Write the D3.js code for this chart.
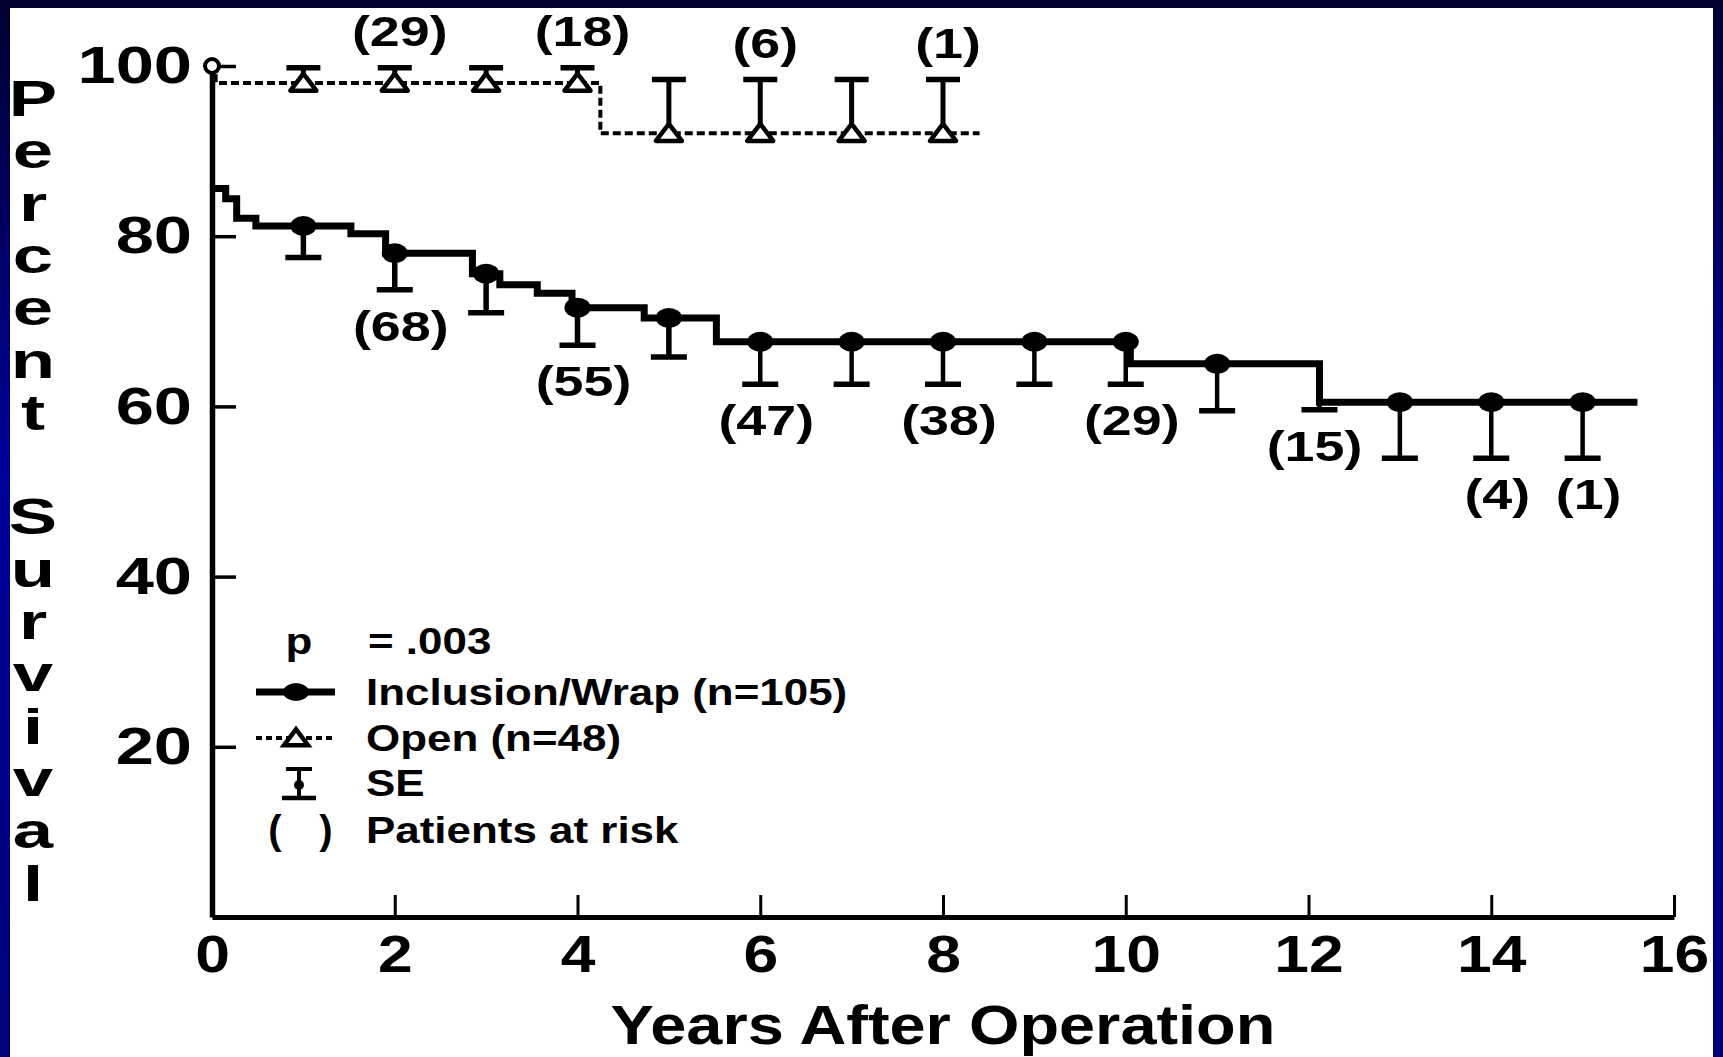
<!DOCTYPE html>
<html><head><meta charset="utf-8">
<script src="https://cdn.jsdelivr.net/npm/d3@7"></script>
<style>html,body{margin:0;padding:0;overflow:hidden;background:#000050}
text{font-family:"Liberation Sans",Arial,Helvetica,sans-serif;font-weight:bold;fill:#000}</style>
</head><body>
<svg id="c" width="1723" height="1057"></svg>
<script>
// ---------------- data ----------------
const xTicks = [0, 2, 4, 6, 8, 10, 12, 14, 16];
const yTicks = [20, 40, 60, 80, 100];

// Inclusion/Wrap (solid) Kaplan-Meier steps
const wrapTimes = [0, 0.15, 0.27, 0.48, 1.52, 1.9, 2.85, 3.15, 3.56, 3.94, 4.73, 5.52, 10.05, 12.12, 15.6];
const wrapSurv  = [85.6, 84.4, 82.1, 81.2, 80.3, 78.0, 75.6, 74.3, 73.3, 71.6, 70.4, 67.6, 65.0, 60.5, 60.5];
// Inclusion/Wrap SE bars (lower half)
const wrapSEYears = [1, 2, 3, 4, 5, 6, 7, 8, 9, 10, 11, 12.12, 13, 14, 15];
const wrapSETop   = [81.2, 78.0, 75.6, 71.6, 70.4, 67.6, 67.6, 67.6, 67.6, 67.6, 65.0, 65.0, 60.5, 60.5, 60.5];
const wrapSELow   = [77.5, 73.7, 71.0, 67.2, 65.8, 62.6, 62.6, 62.6, 62.6, 62.6, 59.5, 59.6, 53.9, 53.9, 53.9];
const wrapDotYears = [1, 2, 3, 4, 5, 6, 7, 8, 9, 10, 11, 13, 14, 15];

// Open (dashed)
const openTimes = [0, 0.04, 4.25, 8.4];
const openSurv  = [100, 98.0, 92.1, 92.1];
const openSEYears = [1, 2, 3, 4, 5, 6, 7, 8];
const openSEVal   = [98.0, 98.0, 98.0, 98.0, 92.1, 92.1, 92.1, 92.1];
const openSEHigh  = [99.8, 99.8, 99.8, 99.8, 98.4, 98.4, 98.4, 98.4];

// patients at risk
const openRiskYears = [2, 4, 6, 8];
const openRiskN     = [29, 18, 6, 1];
const wrapRiskYears = [2, 4, 6, 8, 10, 12, 14, 15];
const wrapRiskN     = [68, 55, 47, 38, 29, 15, 4, 1];

const yTitle = "Percent Survival";
const xTitle = "Years After Operation";
const legendP = ["p", "= .003"];
const legendItems = ["Inclusion/Wrap (n=105)", "Open (n=48)", "SE", "Patients at risk"];

// ---------------- drawing ----------------
const W = 1723, H = 1057;
const svg = d3.select("#c");

const defs = svg.append("defs");
const grad = defs.append("linearGradient").attr("id","bg").attr("x1",0).attr("y1",0).attr("x2",0).attr("y2",1);
grad.append("stop").attr("offset","0%").attr("stop-color","#000030");
grad.append("stop").attr("offset","45%").attr("stop-color","#00009a");
grad.append("stop").attr("offset","100%").attr("stop-color","#000078");
svg.append("rect").attr("width",W).attr("height",H).attr("fill","url(#bg)");
svg.append("rect").attr("x",10).attr("y",8).attr("width",1703).attr("height",H-8).attr("fill","#fff");

const x = d3.scaleLinear().domain([0,16]).range([212,1674]);
const y = d3.scaleLinear().domain([0,100]).range([917,66]);

function stretch(sel, k){
  sel.each(function(){
    const w = this.getComputedTextLength();
    d3.select(this).attr("textLength", w*k).attr("lengthAdjust","spacingAndGlyphs");
  });
}

// axes
const gx = svg.append("g").attr("transform",`translate(0,${y(0)})`)
  .call(d3.axisBottom(x).tickValues(xTicks).tickFormat(d3.format("d")).tickSizeInner(-22).tickSizeOuter(0).tickPadding(18));
gx.select(".domain").attr("stroke","#000").attr("stroke-width",5);
gx.selectAll(".tick line").attr("stroke","#000").attr("stroke-width",3);
gx.selectAll(".tick text").attr("font-size",52).attr("fill","#000").style("font-family",'"Liberation Sans",Arial,sans-serif').style("font-weight","bold");
stretch(gx.selectAll(".tick text"), 1.2);

const gy = svg.append("g").attr("transform",`translate(${x(0)},0)`)
  .call(d3.axisLeft(y).tickValues(yTicks).tickFormat(d3.format("d")).tickSizeInner(-24).tickSizeOuter(0).tickPadding(20));
gy.select(".domain").attr("stroke","#000").attr("stroke-width",5.5);
gy.selectAll(".tick line").attr("stroke","#000").attr("stroke-width",3.5);
gy.selectAll(".tick text").attr("font-size",52).attr("fill","#000").style("font-family",'"Liberation Sans",Arial,sans-serif').style("font-weight","bold");
stretch(gy.selectAll(".tick text"), 1.32);

// axis titles
const yt = svg.append("g");
yTitle.split("").forEach((ch,i)=>{
  if(ch===" ") return;
  yt.append("text").attr("transform",`translate(33,${101 + i*52.3 + 15}) scale(1.45,1)`)
    .attr("text-anchor","middle").attr("font-size",50).text(ch);
});
const xt = svg.append("text").attr("x",943).attr("y",1044).attr("text-anchor","middle").attr("font-size",55).text(xTitle);
stretch(xt, 1.18);

// open curve (dashed)
const line = d3.line().x(d=>x(d[0])).y(d=>y(d[1])).curve(d3.curveStepAfter);
svg.append("path").datum(openTimes.map((t,i)=>[t,openSurv[i]]))
  .attr("d",line).attr("fill","none").attr("stroke","#000").attr("stroke-width",4).attr("stroke-dasharray","8,4");

// open SE bars (upper)
const gOpen = svg.append("g");
openSEYears.forEach((t,i)=>{
  gOpen.append("line").attr("x1",x(t)).attr("x2",x(t)).attr("y1",y(openSEVal[i])).attr("y2",y(openSEHigh[i]))
    .attr("stroke","#000").attr("stroke-width",5);
  gOpen.append("line").attr("x1",x(t)-17).attr("x2",x(t)+17).attr("y1",y(openSEHigh[i])).attr("y2",y(openSEHigh[i]))
    .attr("stroke","#000").attr("stroke-width",5.5);
});
const tri = (cx,cy,w,h)=>`M${cx-w/2},${cy+h*0.45}L${cx+w/2},${cy+h*0.45}L${cx},${cy-h*0.55}Z`;
openSEYears.forEach((t,i)=>{
  gOpen.append("path").attr("d",tri(x(t),y(openSEVal[i]),26,17))
    .attr("fill","#fff").attr("stroke","#000").attr("stroke-width",4.5).attr("stroke-linejoin","round");
});
// open start circle
svg.append("circle").attr("cx",x(openTimes[0])).attr("cy",y(openSurv[0])).attr("r",7)
  .attr("fill","#fff").attr("stroke","#000").attr("stroke-width",4);

// wrap curve (solid)
svg.append("path").datum(wrapTimes.map((t,i)=>[t,wrapSurv[i]]))
  .attr("d",line).attr("fill","none").attr("stroke","#000").attr("stroke-width",7).attr("stroke-linejoin","miter");

const gWrap = svg.append("g");
wrapSEYears.forEach((t,i)=>{
  gWrap.append("line").attr("x1",x(t)).attr("x2",x(t)).attr("y1",y(wrapSETop[i])).attr("y2",y(wrapSELow[i]))
    .attr("stroke","#000").attr("stroke-width",i<5?5.5:4.5);
  gWrap.append("line").attr("x1",x(t)-18).attr("x2",x(t)+18).attr("y1",y(wrapSELow[i])).attr("y2",y(wrapSELow[i]))
    .attr("stroke","#000").attr("stroke-width",5.5);
});
wrapDotYears.forEach(t=>{
  const i = wrapSEYears.indexOf(t);
  gWrap.append("ellipse").attr("cx",x(t)).attr("cy",y(wrapSETop[i])).attr("rx",13).attr("ry",10).attr("fill","#000");
});

// patients at risk labels
const gRisk = svg.append("g");
openRiskYears.forEach((t,i)=>{
  const j = openSEYears.indexOf(t);
  gRisk.append("text").attr("x",x(t)+5).attr("y",y(openSEHigh[j])-37).attr("dy","0.35em")
    .attr("text-anchor","middle").attr("font-size",43).text(`(${openRiskN[i]})`);
});
wrapRiskYears.forEach((t,i)=>{
  let j = 0, best = 1e9;
  wrapSEYears.forEach((s,k)=>{ if(Math.abs(s-t)<best){best=Math.abs(s-t); j=k;} });
  gRisk.append("text").attr("x",x(t)+6).attr("y",y(wrapSELow[j])+36).attr("dy","0.35em")
    .attr("text-anchor","middle").attr("font-size",43).text(`(${wrapRiskN[i]})`);
});
stretch(gRisk.selectAll("text"), 1.25);

// legend
const gL = svg.append("g");
const rows = [641, 692, 738, 783, 830];
gL.append("text").attr("x",299).attr("y",rows[0]).attr("dy","0.35em").attr("text-anchor","middle").attr("font-size",36).text(legendP[0]);
gL.append("text").attr("x",368).attr("y",rows[0]).attr("dy","0.35em").attr("font-size",36).text(legendP[1]);
legendItems.forEach((s,i)=>{
  gL.append("text").attr("x",366).attr("y",rows[i+1]).attr("dy","0.35em").attr("font-size",36).text(s);
});
stretch(gL.selectAll("text"), 1.22);
// symbols
gL.append("line").attr("x1",256).attr("x2",335).attr("y1",rows[1]).attr("y2",rows[1]).attr("stroke","#000").attr("stroke-width",7);
gL.append("ellipse").attr("cx",296).attr("cy",rows[1]).attr("rx",13).attr("ry",9).attr("fill","#000");
gL.append("line").attr("x1",256).attr("x2",335).attr("y1",rows[2]).attr("y2",rows[2]).attr("stroke","#000").attr("stroke-width",4).attr("stroke-dasharray","6,4");
gL.append("path").attr("d",tri(296,rows[2],24,16)).attr("fill","#fff").attr("stroke","#000").attr("stroke-width",4.5);
gL.append("line").attr("x1",299).attr("x2",299).attr("y1",rows[3]-14).attr("y2",rows[3]+15).attr("stroke","#000").attr("stroke-width",4);
gL.append("line").attr("x1",286).attr("x2",312).attr("y1",rows[3]-14).attr("y2",rows[3]-14).attr("stroke","#000").attr("stroke-width",4);
gL.append("line").attr("x1",282).attr("x2",316).attr("y1",rows[3]+15).attr("y2",rows[3]+15).attr("stroke","#000").attr("stroke-width",4.5);
gL.append("ellipse").attr("cx",299).attr("cy",rows[3]+2).attr("rx",5).attr("ry",5).attr("fill","#000");
gL.append("text").attr("x",275).attr("y",rows[4]).attr("dy","0.35em").attr("text-anchor","middle").attr("font-size",40).text("(");
gL.append("text").attr("x",326).attr("y",rows[4]).attr("dy","0.35em").attr("text-anchor","middle").attr("font-size",40).text(")");
</script>
</body></html>
